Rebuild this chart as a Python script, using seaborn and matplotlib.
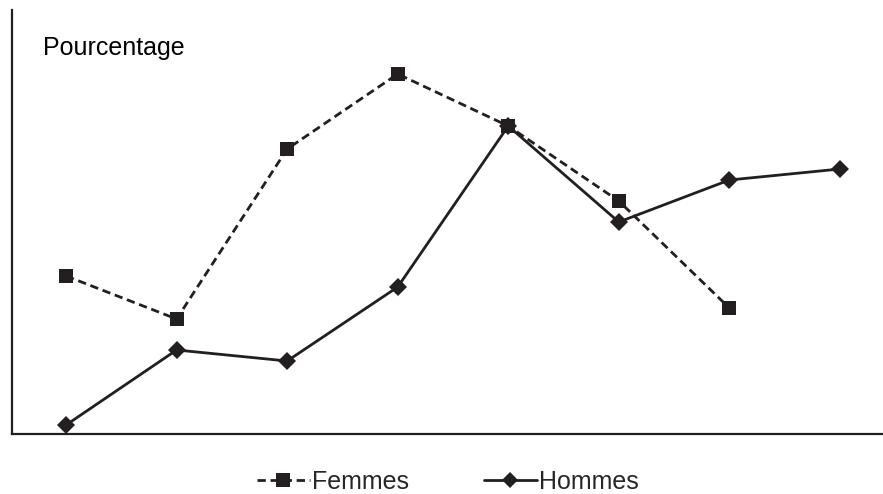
import numpy as np
import pandas as pd
import matplotlib
matplotlib.use("Agg")
import matplotlib.pyplot as plt
import seaborn as sns

# data (arbitrary percentage scale)
periodes = list(range(8))
femmes = [158, 115, 285, 360, 308, 233, 126]
hommes = [9, 84, 73, 147, 308, 212, 254, 265]

sns.set_style("white")
plt.rcParams["font.family"] = ["Liberation Sans", "DejaVu Sans"]

ink = "#231f20"

fig = plt.figure(figsize=(8.83, 4.94), dpi=100)
ax = fig.add_axes([12 / 883, 60 / 494, 871 / 883, 424 / 494])

df_f = pd.DataFrame({"x": periodes[:len(femmes)], "y": femmes})
df_h = pd.DataFrame({"x": periodes, "y": hommes})

sns.lineplot(data=df_f, x="x", y="y", ax=ax, color=ink, linewidth=2,
             marker="s", markersize=10.5, markeredgewidth=0,
             dashes=False, label="Femmes")
ax.lines[-1].set_dashes((3, 1.7))
sns.lineplot(data=df_h, x="x", y="y", ax=ax, color=ink, linewidth=2,
             marker="D", markersize=9.5, markeredgewidth=0, label="Hommes")

ax.set_xlim(-0.489, 7.39)
ax.set_ylim(0, 424)
ax.set_xticks([])
ax.set_yticks([])
ax.set_xlabel("")
ax.set_ylabel("")
for side in ["top", "right"]:
    ax.spines[side].set_visible(False)
for side in ["left", "bottom"]:
    ax.spines[side].set_color(ink)
    ax.spines[side].set_linewidth(1.6)

ax.text(43 / 883, 1 - 48 / 494, "Pourcentage", transform=fig.transFigure,
        fontsize=18, va="center", ha="left", color="black")

handles, labels = ax.get_legend_handles_labels()
ax.get_legend().remove()
fig.legend(handles, labels, loc="center", bbox_to_anchor=(448 / 883, 1 - 482 / 494),
           ncol=2, frameon=False, fontsize=18, handlelength=2.1, markerscale=0.9,
           handletextpad=0.1, columnspacing=3.0)

fig.savefig("out.png", dpi=100)
